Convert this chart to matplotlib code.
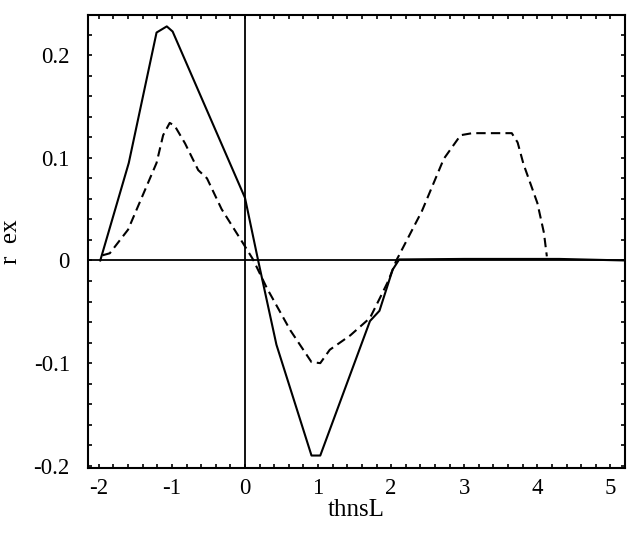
import matplotlib
matplotlib.use("Agg")
import matplotlib.pyplot as plt
from matplotlib.ticker import MultipleLocator

# solid curve
solid_x = [-1.98, -1.59, -1.21, -1.07, -0.99, 0.0, 0.18, 0.43, 0.91, 1.03,
           1.71, 1.84, 2.02, 2.11, 3.0, 4.3, 5.2]
solid_y = [0.0, 0.095, 0.222, 0.228, 0.223, 0.061, 0.0, -0.082, -0.19, -0.19,
           -0.059, -0.049, -0.009, 0.001, 0.0015, 0.0015, 0.0]

# dashed curve
dash_x = [-1.95, -1.85, -1.6, -1.42, -1.21, -1.12, -1.03, -0.96, -0.82, -0.64,
          -0.52, -0.32, -0.02, 0.11, 0.30, 0.62, 0.91, 1.03, 1.16, 1.44,
          1.71, 1.85, 1.96, 2.07, 2.10, 2.42, 2.72, 2.88, 2.95, 3.11,
          3.65, 3.73, 3.81, 4.0, 4.09, 4.13]
dash_y = [0.005, 0.007, 0.03, 0.06, 0.095, 0.122, 0.134, 0.131, 0.114, 0.088,
          0.080, 0.050, 0.016, 0.001, -0.027, -0.068, -0.099, -0.100, -0.087, -0.073,
          -0.056, -0.036, -0.020, 0.0, 0.004, 0.048, 0.099, 0.115, 0.122, 0.124,
          0.124, 0.115, 0.094, 0.056, 0.027, 0.004]

xticks = [-2, -1, 0, 1, 2, 3, 4, 5]
yticks = [-0.2, -0.1, 0, 0.1, 0.2]
ytick_labels = ["-0.2", "-0.1", "0", "0.1", "0.2"]

plt.rcParams['font.family'] = ['Liberation Serif', 'DejaVu Serif']

fig = plt.figure(figsize=(6.32, 5.39), dpi=100)
ax = fig.add_axes([0.139, 0.132, 0.85, 0.840])

ax.axhline(0, color="black", lw=1.3)
ax.axvline(0, color="black", lw=1.3)
ax.plot(solid_x, solid_y, color="black", lw=1.5)
ax.plot(dash_x, dash_y, color="black", lw=1.5, dashes=(4.5, 2.5))

ax.set_xlim(-2.15, 5.2)
ax.set_ylim(-0.202, 0.239)
ax.set_xticks(xticks)
ax.set_xticklabels([str(t) for t in xticks])
ax.set_yticks(yticks)
ax.set_yticklabels(ytick_labels)
ax.xaxis.set_minor_locator(MultipleLocator(0.2))
ax.yaxis.set_minor_locator(MultipleLocator(0.02))
ax.tick_params(which="both", direction="in", top=True, right=True,
               length=3, width=1.2, labelsize=16.5)
ax.tick_params(axis="y", pad=13)
ax.tick_params(axis="x", pad=7)
for s in ax.spines.values():
    s.set_linewidth(1.5)

ax.set_xlabel("thnsL", fontsize=18, labelpad=0)
ax.set_ylabel("r  ex", fontsize=18, labelpad=8)

fig.savefig("out.png", dpi=100)
